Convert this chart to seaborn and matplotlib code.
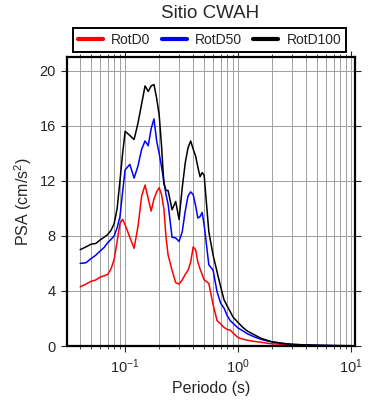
import matplotlib
matplotlib.use("Agg")
import matplotlib.pyplot as plt
import seaborn as sns
import numpy as np
import pandas as pd
from matplotlib.ticker import LogLocator, LogFormatterMathtext, NullFormatter

periods = [0.04, 0.045, 0.05, 0.055, 0.06, 0.065, 0.07, 0.075, 0.08, 0.085, 0.09, 0.095,
           0.1, 0.11, 0.12, 0.13, 0.14, 0.15, 0.16, 0.17, 0.18, 0.19, 0.2, 0.21, 0.22, 0.23,
           0.24, 0.26, 0.28, 0.3, 0.32, 0.34, 0.36, 0.38, 0.4, 0.42, 0.44, 0.46, 0.48, 0.5,
           0.55, 0.6, 0.65, 0.7, 0.75, 0.8, 0.85, 0.9, 1.0, 1.1, 1.2, 1.4, 1.6, 1.8, 2.0,
           2.5, 3.0, 4.0, 5.0, 6.0, 7.0, 8.0, 10.0]

rotd100 = [7.0, 7.2, 7.4, 7.45, 7.7, 7.9, 8.1, 8.4, 8.9, 10.0, 12.0, 14.0,
           15.6, 15.3, 15.0, 16.2, 17.6, 18.9, 18.5, 18.9, 19.0, 18.0, 16.8, 14.5, 11.8, 11.3,
           11.3, 9.9, 10.5, 9.2, 11.5, 13.3, 14.4, 14.9, 14.3, 13.8, 13.0, 12.3, 12.6, 12.4,
           8.3, 6.6, 5.4, 4.3, 3.35, 2.9, 2.5, 2.1, 1.7, 1.35, 1.1, 0.8, 0.55, 0.42, 0.3,
           0.19, 0.12, 0.08, 0.05, 0.04, 0.03, 0.03, 0.02]

rotd50 = [6.0, 6.05, 6.35, 6.6, 6.9, 7.15, 7.5, 7.75, 8.0, 8.6, 9.4, 11.2,
          12.8, 13.2, 12.2, 13.1, 14.3, 14.9, 14.55, 15.8, 16.5, 14.9, 14.0, 13.0, 12.0, 11.0,
          10.3, 7.9, 7.85, 7.6, 8.3, 9.8, 10.9, 11.2, 11.0, 10.2, 9.3, 9.4, 9.7, 8.8,
          5.9, 5.5, 3.95, 3.1, 2.75, 2.2, 1.85, 1.65, 1.3, 1.1, 0.9, 0.65, 0.48, 0.37, 0.3,
          0.18, 0.12, 0.07, 0.05, 0.04, 0.03, 0.02, 0.02]

rotd0 = [4.3, 4.5, 4.7, 4.8, 5.0, 5.1, 5.2, 5.6, 6.3, 7.6, 8.9, 9.2,
         8.8, 7.9, 7.1, 8.7, 10.9, 11.7, 10.7, 9.8, 10.7, 11.2, 11.5, 11.0, 10.0, 7.9,
         6.6, 5.5, 4.6, 4.5, 4.8, 5.2, 5.5, 6.1, 7.2, 7.0, 6.1, 5.6, 5.2, 4.8,
         4.55, 3.0, 1.85, 1.6, 1.35, 1.2, 1.15, 0.95, 0.6, 0.5, 0.42, 0.33, 0.27, 0.2, 0.16,
         0.12, 0.09, 0.06, 0.04, 0.03, 0.02, 0.02, 0.01]

series_names = ["RotD0", "RotD50", "RotD100"]
series_colors = ["#ff0000", "#0000ff", "#000000"]
yticks = [0, 4, 8, 12, 16, 20]

sns.set_style("ticks")
plt.rcParams["font.family"] = ["Liberation Sans", "DejaVu Sans"]
plt.rcParams["mathtext.fontset"] = "custom"
plt.rcParams["mathtext.rm"] = "Liberation Sans"
plt.rcParams["mathtext.it"] = "Liberation Sans:italic"

fig = plt.figure(figsize=(3.9, 4.0), dpi=100)
ax = fig.add_axes([67/390, 54/400, 288/390, 289/400])

df = pd.DataFrame({"T": periods * 3,
                   "PSA": rotd0 + rotd50 + rotd100,
                   "comp": [series_names[0]] * len(periods) + [series_names[1]] * len(periods)
                           + [series_names[2]] * len(periods)})
for name, col in zip(series_names, series_colors):
    sub = df[df["comp"] == name]
    sns.lineplot(data=sub, x="T", y="PSA", color=col, lw=1.1, label=name, ax=ax,
                 estimator=None, sort=False)

ax.set_xscale("log")
ax.set_xlim(0.0306, 10.8)
ax.set_ylim(0, 21)
ax.xaxis.set_major_locator(LogLocator(base=10))
ax.xaxis.set_minor_locator(LogLocator(base=10, subs=np.arange(2, 10)))
ax.xaxis.set_major_formatter(LogFormatterMathtext())
ax.xaxis.set_minor_formatter(NullFormatter())
ax.set_yticks(yticks)

ax.grid(True, which="both", axis="x", color="#a0a0a0", lw=0.7)
ax.grid(True, which="major", axis="y", color="#a0a0a0", lw=0.7)
ax.set_axisbelow(True)

for s in ax.spines.values():
    s.set_linewidth(1.6)
    s.set_color("black")
    s.set_visible(True)

ax.tick_params(which="major", direction="out", length=4, width=0.8, labelsize=10.5,
               top=True, right=True, labeltop=False, labelright=False, pad=4)
ax.tick_params(which="minor", direction="out", length=2.5, width=0.6, top=True, bottom=True)

ax.set_xlabel("Periodo (s)", fontsize=11.5)
ax.set_ylabel("PSA (cm/s$^2$)", fontsize=11.5, labelpad=4)

leg = ax.legend(loc="lower center", bbox_to_anchor=(0.495, 1.017),
                ncol=3, borderaxespad=0, fancybox=False,
                edgecolor="black", fontsize=10, handlelength=1.8, handletextpad=0.6,
                columnspacing=0.8, borderpad=0.35, framealpha=1)
leg.get_frame().set_linewidth(1.4)
for line in leg.get_lines():
    line.set_linewidth(3)

fig.text(0.538, 0.967, "Sitio CWAH", ha="center", va="center", fontsize=13.5)

fig.savefig("out.png", dpi=100)
